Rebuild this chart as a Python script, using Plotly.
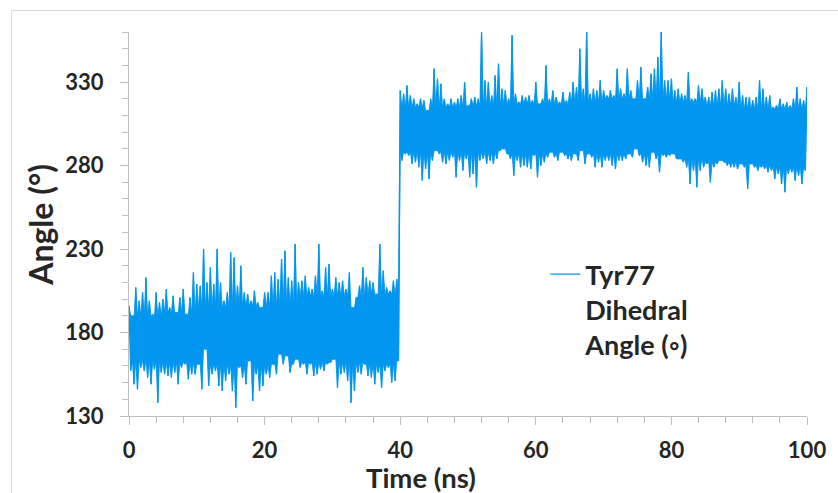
import numpy as np
import plotly.graph_objects as go

# Tyr77 dihedral angle trajectory, sampled every 0.5 ns:
# local maxima at t = 0, 0.5, ..., 100 ns and local minima half-way between them.
STEP_NS = 0.5

upper_deg = [
    # 0 - 13 ns
    196, 190, 207, 199, 204, 213, 199, 191, 204, 198, 200, 206, 195, 202,
    192, 201, 206, 191, 201, 216, 209, 208, 230, 210, 219, 209, 230,
    # 13.5 - 26.5 ns
    210, 199, 204, 228, 225, 208, 220, 204, 203, 199, 205, 198, 195, 204,
    204, 214, 216, 212, 224, 229, 213, 211, 233, 210, 211, 214, 207,
    # 27 - 39.5 ns
    206, 214, 233, 205, 219, 221, 206, 213, 210, 211, 206, 216, 195, 201,
    208, 219, 213, 211, 210, 203, 233, 217, 207, 205, 211, 212,
    # 40 - 54.5 ns
    325, 323, 328, 322, 320, 317, 320, 319, 313, 320, 338, 332, 329, 320, 317,
    320, 318, 320, 322, 330, 316, 320, 321, 320, 360, 331, 330, 322, 334, 341,
    # 55 - 70 ns
    326, 325, 320, 358, 323, 318, 322, 321, 322, 319, 330, 317, 320, 340, 320, 325,
    321, 318, 324, 319, 324, 330, 327, 350, 326, 360, 323, 326, 325, 331, 325,
    # 70.5 - 85 ns
    322, 325, 322, 338, 326, 323, 338, 325, 320, 331, 339, 320, 327, 335, 338,
    345, 360, 331, 331, 332, 325, 326, 323, 322, 336, 320, 320, 328, 326, 321,
    # 85.5 - 100 ns
    321, 324, 325, 326, 331, 326, 323, 326, 321, 330, 322, 321, 321, 319, 321,
    331, 326, 321, 322, 315, 316, 320, 317, 318, 316, 320, 327, 320, 319, 327,
]

lower_deg = [
    # 0.25 - 13.25 ns
    157, 149, 146, 159, 157, 153, 149, 158, 138, 156, 155, 154, 153, 156,
    149, 159, 161, 152, 155, 155, 161, 146, 170, 148, 155, 157, 148,
    # 13.75 - 26.75 ns
    145, 151, 155, 145, 135, 159, 153, 149, 163, 139, 155, 145, 148, 155,
    153, 161, 155, 167, 161, 166, 156, 161, 164, 159, 161, 155, 161,
    # 27.25 - 39.75 ns
    154, 155, 158, 157, 161, 162, 164, 147, 155, 156, 151, 138, 145, 156,
    155, 161, 154, 153, 149, 156, 147, 157, 159, 150, 151, 163,
    # 40.25 - 54.75 ns
    283, 287, 286, 281, 282, 279, 271, 278, 272, 283, 289, 287, 282, 281, 283,
    285, 273, 283, 277, 284, 273, 275, 267, 283, 284, 281, 283, 281, 284, 289,
    # 55.25 - 70.25 ns
    290, 287, 284, 274, 283, 279, 280, 279, 278, 286, 273, 280, 282, 285, 288, 285,
    283, 288, 286, 284, 283, 287, 283, 289, 281, 287, 285, 279, 282, 279, 283,
    # 70.75 - 85.25 ns
    283, 280, 278, 283, 283, 284, 287, 285, 290, 286, 282, 280, 279, 288, 284,
    276, 286, 285, 286, 287, 284, 284, 282, 279, 269, 277, 267, 277, 279, 281,
    # 85.75 - 99.75 ns
    270, 279, 281, 283, 282, 280, 279, 279, 278, 281, 279, 266, 281, 279, 277,
    279, 278, 276, 277, 272, 275, 269, 264, 275, 276, 271, 274, 269, 277,
]

# edges of the densely sampled core of the fluctuation, per 5 ns block
BLOCK_NS = 5
core_upper_deg = [190, 192, 195, 196, 196, 202, 202, 203, 315, 315,
                  316, 317, 317, 318, 320, 320, 318, 316, 314, 314]
core_lower_deg = [163, 162, 161, 160, 160, 162, 162, 161, 288, 288,
                  288, 287, 287, 287, 287, 287, 284, 282, 280, 279]

series_name = "Tyr77<br>Dihedral<br>Angle (◦)"
x_title = "Time (ns)"
y_title = "Angle (°)"

upper_t = [i * STEP_NS for i in range(len(upper_deg))]
lower_t = [i * STEP_NS + STEP_NS / 2 for i in range(len(lower_deg))]


def block(t):
    return min(int(t // BLOCK_NS), len(core_upper_deg) - 1)


# interleave maxima and minima into one time-ordered trace
time_ns, angle = [], []
for i, hi in enumerate(upper_deg):
    time_ns.append(upper_t[i])
    angle.append(hi)
    if i < len(lower_deg):
        time_ns.append(lower_t[i])
        angle.append(lower_deg[i])

# outline of the filled band: spikes rise from the core edges
top_x, top_y = [], []
for i, hi in enumerate(upper_deg):
    top_x.append(upper_t[i])
    top_y.append(hi)
    if i + 1 < len(upper_deg):
        tm = upper_t[i] + STEP_NS / 2
        top_x.append(tm)
        top_y.append(min(core_upper_deg[block(tm)], hi, upper_deg[i + 1]))
bot_x, bot_y = [], []
for i, lo in enumerate(lower_deg):
    bot_x.append(lower_t[i])
    bot_y.append(lo)
    if i + 1 < len(lower_deg):
        tm = lower_t[i] + STEP_NS / 2
        bot_x.append(tm)
        bot_y.append(max(core_lower_deg[block(tm)], lo, lower_deg[i + 1]))

BLUE = "#0396EF"
TEXT = "#262626"
AXIS = "#BFBFBF"
FONT = "Lato"

fig = go.Figure()
fig.add_trace(go.Scatter(
    x=top_x + bot_x[::-1], y=top_y + bot_y[::-1],
    mode="lines", fill="toself", fillcolor=BLUE,
    line=dict(color=BLUE, width=0.8), showlegend=False, hoverinfo="skip",
))
fig.add_trace(go.Scatter(
    x=time_ns, y=angle, mode="lines", name=series_name,
    line=dict(color=BLUE, width=1.3),
))

W, H = 838, 493
L, R, T, B = 129, 25, 32, 77
pw, ph = W - L - R, H - T - B


def px_x(px):
    return (px - L) / pw


def px_y(py):
    return (H - B - py) / ph


fig.update_layout(
    width=W, height=H,
    margin=dict(l=L, r=R, t=T, b=B),
    paper_bgcolor="white", plot_bgcolor="white",
    font=dict(family=FONT, color=TEXT, size=22, weight="bold"),
    showlegend=True,
    legend=dict(
        x=px_x(549), y=px_y(250), xanchor="left", yanchor="top",
        bgcolor="rgba(0,0,0,0)", valign="top", itemwidth=30,
        font=dict(family=FONT, size=27, color=TEXT, weight="bold"),
    ),
    xaxis=dict(
        range=[0, 100], tick0=0, dtick=20,
        showline=True, linecolor=AXIS, linewidth=1,
        ticks="outside", ticklen=8, tickcolor=AXIS,
        minor=dict(dtick=4, tick0=0, ticks="outside", ticklen=6, tickcolor=AXIS),
        showgrid=False, zeroline=False, ticklabelstandoff=7,
        tickfont=dict(family=FONT, size=22, color=TEXT, weight="bold"),
    ),
    yaxis=dict(
        range=[130, 360], tick0=130, dtick=50,
        showline=True, linecolor=AXIS, linewidth=1,
        ticks="outside", ticklen=8, tickcolor=AXIS,
        minor=dict(dtick=10, tick0=130, ticks="outside", ticklen=6, tickcolor=AXIS),
        showgrid=False, zeroline=False, ticklabelstandoff=12,
        tickfont=dict(family=FONT, size=22, color=TEXT, weight="bold"),
    ),
    annotations=[
        dict(text=x_title, xref="paper", yref="paper",
             x=px_x(424), y=px_y(477), xanchor="center", yanchor="middle",
             showarrow=False,
             font=dict(family=FONT, size=27.5, color=TEXT, weight="bold")),
        dict(text=y_title, xref="paper", yref="paper",
             x=px_x(39), y=px_y(225), xanchor="center", yanchor="middle",
             textangle=-90, showarrow=False,
             font=dict(family=FONT, size=32, color=TEXT, weight="bold")),
    ],
    shapes=[
        # chart-area frame
        dict(type="rect", xref="paper", yref="paper",
             x0=px_x(10.5), y0=px_y(500), x1=px_x(845), y1=px_y(10.5),
             line=dict(color="#D9D9D9", width=1), layer="below"),
    ],
)

fig.write_html("out.html")
